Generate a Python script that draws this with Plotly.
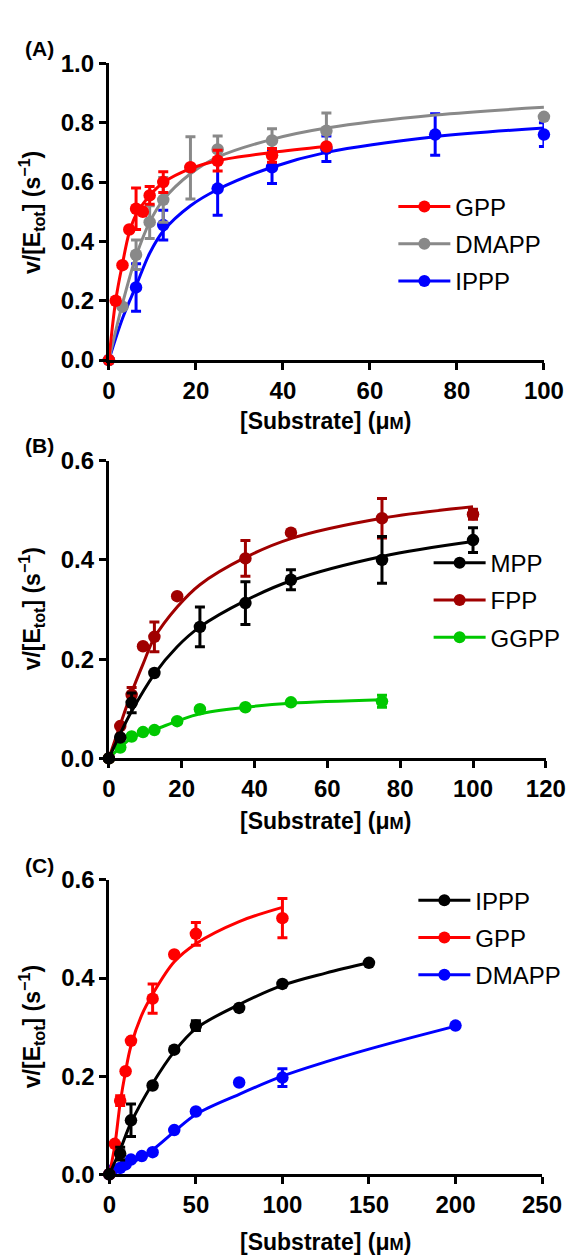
import plotly.graph_objects as go

# ---------------- data ----------------
# Panel A
A_GPP_x = [0, 1.5625, 3.125, 4.6875, 6.25, 7.8125, 9.375, 12.5, 18.75, 25, 37.5, 50]
A_GPP_y = [0, 0.20, 0.32, 0.44, 0.51, 0.50, 0.555, 0.60, 0.65, 0.672, 0.69, 0.72]
A_GPP_e = [0, 0, 0, 0, 0.07, 0, 0.03, 0.035, 0, 0.035, 0.023, 0]
A_GPP_fit_x = [0, 1.5625, 3.125, 4.6875, 6.25, 9.375, 12.5, 18.75, 25, 37.5, 50]
A_GPP_fit_y = [0, 0.20, 0.325, 0.43, 0.49, 0.555, 0.598, 0.645, 0.672, 0.70, 0.72]

A_DMAPP_x = [0, 3.125, 6.25, 9.375, 12.5, 18.75, 25, 37.5, 50, 100]
A_DMAPP_y = [0, 0.18, 0.355, 0.465, 0.54, 0.648, 0.71, 0.74, 0.773, 0.82]
A_DMAPP_e = [0, 0, 0.05, 0.055, 0.075, 0.105, 0.045, 0.04, 0.06, 0]
A_DMAPP_fit_x = [0, 3.125, 6.25, 9.375, 12.5, 18.75, 25, 37.5, 50, 75, 100]
A_DMAPP_fit_y = [0, 0.19, 0.35, 0.465, 0.54, 0.628, 0.684, 0.744, 0.782, 0.826, 0.852]

A_IPPP_x = [0, 6.25, 12.5, 25, 37.5, 50, 75, 100]
A_IPPP_y = [0, 0.245, 0.455, 0.578, 0.65, 0.712, 0.76, 0.76]
A_IPPP_e = [0, 0.08, 0.05, 0.09, 0.055, 0.043, 0.07, 0.04]
A_IPPP_fit_x = [0, 3.125, 6.25, 9.375, 12.5, 18.75, 25, 37.5, 50, 75, 100]
A_IPPP_fit_y = [0, 0.14, 0.25, 0.36, 0.435, 0.52, 0.575, 0.65, 0.70, 0.753, 0.782]

# Panel B
B_MPP_x = [0, 3.125, 6.25, 12.5, 25, 37.5, 50, 75, 100]
B_MPP_y = [0, 0.042, 0.112, 0.172, 0.265, 0.313, 0.36, 0.40, 0.44]
B_MPP_e = [0, 0, 0.02, 0, 0.04, 0.043, 0.02, 0.047, 0.025]
B_MPP_fit_x = [0, 3.125, 6.25, 12.5, 18.75, 25, 37.5, 50, 75, 100]
B_MPP_fit_y = [0, 0.05, 0.095, 0.17, 0.225, 0.265, 0.318, 0.358, 0.407, 0.437]

B_FPP_x = [0, 3.125, 6.25, 9.375, 12.5, 18.75, 37.5, 50, 75, 100]
B_FPP_y = [0, 0.065, 0.128, 0.226, 0.245, 0.327, 0.403, 0.455, 0.484, 0.492]
B_FPP_e = [0, 0, 0.015, 0, 0.03, 0, 0.036, 0, 0.04, 0.01]
B_FPP_fit_x = [0, 3.125, 6.25, 9.375, 12.5, 18.75, 25, 37.5, 50, 75, 100]
B_FPP_fit_y = [0, 0.068, 0.133, 0.19, 0.243, 0.305, 0.35, 0.405, 0.443, 0.484, 0.507]

B_GGPP_x = [0, 3.125, 6.25, 9.375, 12.5, 18.75, 25, 37.5, 50, 75]
B_GGPP_y = [0, 0.022, 0.044, 0.053, 0.057, 0.075, 0.099, 0.103, 0.113, 0.115]
B_GGPP_e = [0, 0, 0, 0, 0, 0, 0, 0, 0, 0.012]
B_GGPP_fit_x = [0, 3.125, 6.25, 9.375, 12.5, 18.75, 25, 37.5, 50, 75]
B_GGPP_fit_y = [0, 0.022, 0.041, 0.051, 0.058, 0.075, 0.09, 0.103, 0.111, 0.118]

# Panel C
C_IPPP_x = [0, 6.25, 12.5, 25, 37.5, 50, 75, 100, 150]
C_IPPP_y = [0, 0.042, 0.11, 0.181, 0.254, 0.303, 0.339, 0.388, 0.431]
C_IPPP_e = [0, 0.013, 0.033, 0, 0, 0.01, 0, 0, 0]
C_IPPP_fit_x = [0, 6.25, 12.5, 25, 37.5, 50, 75, 100, 125, 150]
C_IPPP_fit_y = [0, 0.05, 0.105, 0.185, 0.25, 0.297, 0.346, 0.385, 0.41, 0.431]

C_GPP_x = [0, 3.125, 6.25, 9.375, 12.5, 25, 37.5, 50, 100]
C_GPP_y = [0, 0.062, 0.15, 0.21, 0.272, 0.358, 0.448, 0.49, 0.522]
C_GPP_e = [0, 0, 0.01, 0, 0, 0.03, 0, 0.023, 0.04]
C_GPP_fit_x = [0, 3.125, 6.25, 9.375, 12.5, 18.75, 25, 37.5, 50, 75, 100]
C_GPP_fit_y = [0, 0.058, 0.145, 0.21, 0.262, 0.325, 0.367, 0.433, 0.47, 0.515, 0.544]

C_DMAPP_x = [0, 1.5625, 6.25, 9.375, 12.5, 18.75, 25, 37.5, 50, 75, 100, 200]
C_DMAPP_y = [0, 0.008, 0.013, 0.02, 0.03, 0.037, 0.045, 0.09, 0.128, 0.187, 0.197, 0.303]
C_DMAPP_e = [0, 0, 0, 0, 0, 0, 0, 0, 0, 0, 0.018, 0]
C_DMAPP_fit_x = [0, 12.5, 25, 37.5, 50, 75, 100, 125, 150, 175, 200]
C_DMAPP_fit_y = [0, 0.022, 0.05, 0.087, 0.122, 0.163, 0.2, 0.229, 0.255, 0.279, 0.302]

# tick settings
A_x_range, A_x_dtick, A_y_range, A_y_dtick = [0, 100], 20, [0, 1.0], 0.2
B_x_range, B_x_dtick, B_y_range, B_y_dtick = [0, 120], 20, [0, 0.6], 0.2
C_x_range, C_x_dtick, C_y_range, C_y_dtick = [0, 250], 50, [0, 0.6], 0.2

RED = "#ff0000"
GRAY = "#898989"
BLUE = "#0000ff"
BLACK = "#000000"
DARKRED = "#a00000"
GREEN = "#00c800"

W, H = 575, 1260
FONT = "Liberation Sans, Arial, sans-serif"

fig = go.Figure()


def add_series(name, color, px, py, pe, fx, fy, xa, ya, legend):
    # legend entry (line + marker)
    fig.add_trace(go.Scatter(
        x=[None], y=[None], mode="lines+markers", name=name,
        line=dict(color=color, width=3), marker=dict(color=color, size=12),
        xaxis=xa, yaxis=ya, legend=legend, legendgroup=legend + name,
        showlegend=True))


def add_data(name, color, px, py, pe, fx, fy, xa, ya, legend):
    fig.add_trace(go.Scatter(
        x=fx, y=fy, mode="lines", line=dict(color=color, width=3, shape="spline", smoothing=1.0),
        xaxis=xa, yaxis=ya, showlegend=False, hoverinfo="skip", legendgroup=legend + name))
    fig.add_trace(go.Scatter(
        x=px, y=py, mode="markers", marker=dict(color=color, size=12.5),
        error_y=dict(type="data", array=pe, visible=True, color=color, thickness=3, width=5),
        xaxis=xa, yaxis=ya, showlegend=False, cliponaxis=False, legendgroup=legend + name, name=name))


panelA = [("GPP", RED, A_GPP_x, A_GPP_y, A_GPP_e, A_GPP_fit_x, A_GPP_fit_y),
          ("DMAPP", GRAY, A_DMAPP_x, A_DMAPP_y, A_DMAPP_e, A_DMAPP_fit_x, A_DMAPP_fit_y),
          ("IPPP", BLUE, A_IPPP_x, A_IPPP_y, A_IPPP_e, A_IPPP_fit_x, A_IPPP_fit_y)]
panelB = [("MPP", BLACK, B_MPP_x, B_MPP_y, B_MPP_e, B_MPP_fit_x, B_MPP_fit_y),
          ("FPP", DARKRED, B_FPP_x, B_FPP_y, B_FPP_e, B_FPP_fit_x, B_FPP_fit_y),
          ("GGPP", GREEN, B_GGPP_x, B_GGPP_y, B_GGPP_e, B_GGPP_fit_x, B_GGPP_fit_y)]
panelC = [("IPPP", BLACK, C_IPPP_x, C_IPPP_y, C_IPPP_e, C_IPPP_fit_x, C_IPPP_fit_y),
          ("GPP", RED, C_GPP_x, C_GPP_y, C_GPP_e, C_GPP_fit_x, C_GPP_fit_y),
          ("DMAPP", BLUE, C_DMAPP_x, C_DMAPP_y, C_DMAPP_e, C_DMAPP_fit_x, C_DMAPP_fit_y)]

for series, xa, ya, lg, order in [(panelA, "x", "y", "legend", [2, 1, 0]),
                                  (panelB, "x2", "y2", "legend2", [2, 1, 0]),
                                  (panelC, "x3", "y3", "legend3", [2, 1, 0])]:
    for s in series:
        add_series(*s, xa, ya, lg)
    for i in order:
        add_data(*series[i], xa, ya, lg)


def px2x(p):
    return p / W


def px2y(p):
    return 1 - p / H


tickfont = dict(family=FONT, size=24, color="black", weight="bold")
axis_common = dict(showline=True, linewidth=3, linecolor="black", ticks="outside",
                   ticklen=7, tickwidth=3, tickcolor="black", showgrid=False,
                   zeroline=False, tickfont=tickfont, fixedrange=True)

layout = dict(
    width=W, height=H, margin=dict(l=0, r=0, t=0, b=0),
    paper_bgcolor="white", plot_bgcolor="white", showlegend=True,
    xaxis=dict(domain=[px2x(98.5), px2x(555)], range=A_x_range, dtick=A_x_dtick, anchor="y", **axis_common),
    yaxis=dict(domain=[px2y(345.5), px2y(42.3)], range=A_y_range, dtick=A_y_dtick, tickformat=".1f", anchor="x", **axis_common),
    xaxis2=dict(domain=[px2x(98.5), px2x(557)], range=B_x_range, dtick=B_x_dtick, anchor="y2", **axis_common),
    yaxis2=dict(domain=[px2y(752.5), px2y(448.3)], range=B_y_range, dtick=B_y_dtick, tickformat=".1f", anchor="x2", **axis_common),
    xaxis3=dict(domain=[px2x(99), px2x(553)], range=C_x_range, dtick=C_x_dtick, anchor="y3", **axis_common),
    yaxis3=dict(domain=[px2y(1177.5), px2y(876.7)], range=C_y_range, dtick=C_y_dtick, tickformat=".1f", anchor="x3", **axis_common),
)

legfont = dict(family=FONT, size=24, color="black")
for key, lx, ly in [("legend", 397, 166), ("legend2", 434, 530), ("legend3", 418, 875)]:
    layout[key] = dict(x=px2x(lx), y=px2y(ly), xanchor="left", yanchor="top",
                       font=legfont, bgcolor="rgba(0,0,0,0)", borderwidth=0,
                       itemwidth=52, traceorder="grouped", tracegroupgap=3)

fig.update_layout(**layout)

ytitle = "v/[E<sub>tot</sub>] (s<sup>−1</sup>)"
xtitle = "[Substrate] (μ<span style='font-size:17px'>M</span>)"
titlefont = dict(family=FONT, size=23, color="black", weight="bold")
labfont = dict(family=FONT, size=21, color="black", weight="bold")

ann = []
for yc in [195, 600, 1027]:
    ann.append(dict(text=ytitle, x=px2x(17), y=px2y(yc), xref="paper", yref="paper",
                    textangle=-90, showarrow=False, font=titlefont, xanchor="center", yanchor="middle"))
for yc in [408, 817, 1247]:
    ann.append(dict(text=xtitle, x=px2x(326), y=px2y(yc), xref="paper", yref="paper",
                    showarrow=False, font=titlefont, xanchor="center", yanchor="middle"))
for lab, yc in [("(A)", 27.5), ("(B)", 432.5), ("(C)", 862)]:
    ann.append(dict(text=lab, x=px2x(26), y=px2y(yc), xref="paper", yref="paper",
                    showarrow=False, font=labfont, xanchor="center", yanchor="middle"))
fig.update_layout(annotations=ann)

fig.write_html("out.html")
